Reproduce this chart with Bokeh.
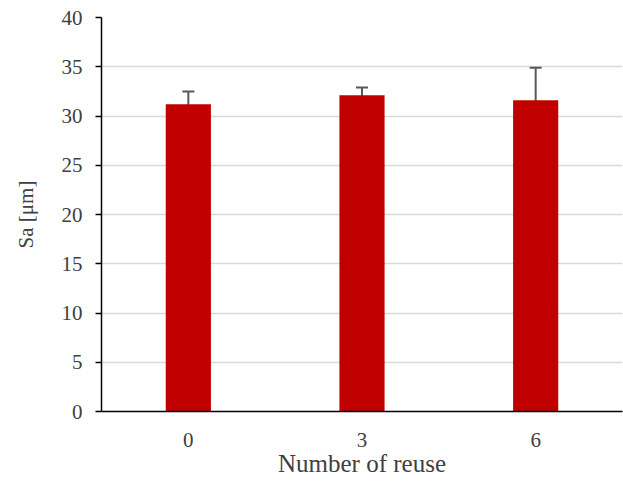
from bokeh.plotting import figure
from bokeh.models import ColumnDataSource, Whisker, FactorRange, Range1d, FixedTicker
from bokeh.embed import file_html
from bokeh.resources import INLINE

categories = ["0", "3", "6"]
sa_mean = [31.2, 32.1, 31.6]
sa_err = [1.3, 0.8, 3.3]
y_ticks = [0, 5, 10, 15, 20, 25, 30, 35, 40]

upper = [m + e for m, e in zip(sa_mean, sa_err)]
lower = [m - e for m, e in zip(sa_mean, sa_err)]
src = ColumnDataSource(dict(x=categories, top=sa_mean, upper=upper, lower=lower))

FONT = "Liberation Serif"
p = figure(width=623, height=485, output_backend="svg", toolbar_location=None,
           x_range=FactorRange(*categories, range_padding=0), y_range=Range1d(0, 40),
           min_border_left=101, min_border_right=1, min_border_top=17, min_border_bottom=74)
p.outline_line_color = None

p.vbar(x="x", top="top", width=0.26, source=src, fill_color="#c00000", line_color=None)
w = Whisker(source=src, base="x", upper="upper", lower="lower",
            line_color="#595959", line_width=2)
for h in (w.upper_head, w.lower_head):
    h.size = 12
    h.line_color = "#595959"
    h.line_width = 2
p.add_layout(w)

p.xgrid.grid_line_color = None
p.ygrid.grid_line_color = "#d9d9d9"
p.ygrid.grid_line_width = 1.5
p.yaxis.ticker = FixedTicker(ticks=y_ticks)

for ax in (p.xaxis, p.yaxis):
    ax.axis_line_color = "black"
    ax.axis_line_width = 1.5
    ax.major_label_text_font = FONT
    ax.major_label_text_font_size = "21px"
    ax.major_label_text_color = "#404040"
    ax.axis_label_text_font = FONT
    ax.axis_label_text_font_style = "normal"
    ax.axis_label_text_color = "#404040"
    ax.minor_tick_line_color = None

p.yaxis.major_tick_line_color = "black"
p.yaxis.major_tick_line_width = 1.5
p.yaxis.major_tick_out = 6
p.yaxis.major_tick_in = 0
p.yaxis.major_label_standoff = 13
p.yaxis.axis_label = "Sa [μm]"
p.yaxis.axis_label_text_font_size = "21px"
p.yaxis.axis_label_standoff = 21

p.xaxis.major_tick_line_color = None
p.xaxis.major_tick_out = 0
p.xaxis.major_tick_in = 0
p.xaxis.major_label_standoff = 21
p.xaxis.axis_label = "Number of reuse"
p.xaxis.axis_label_text_font_size = "25px"
p.xaxis.axis_label_standoff = 0

open("out.html", "w").write(file_html(p, INLINE))
